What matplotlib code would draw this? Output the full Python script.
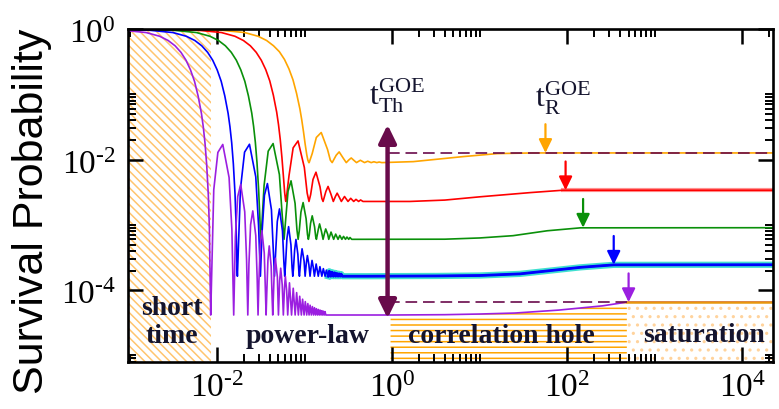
import numpy as np
import matplotlib
matplotlib.use("Agg")
import matplotlib.pyplot as plt
from matplotlib.ticker import FixedLocator, FuncFormatter, NullFormatter

plt.rcParams['mathtext.fontset'] = 'custom'
plt.rcParams['mathtext.rm'] = 'Liberation Serif'
plt.rcParams['mathtext.it'] = 'Liberation Serif'
plt.rcParams['hatch.linewidth'] = 1.1

# survival probability curves (log10 t, log10 P)
violet_lt = [-3.095, -2.813, -2.658, -2.561, -2.482, -2.415, -2.357, -2.306, -2.260, -2.219, -2.181, -2.160,
             -2.140, -2.121, -2.102, -2.090, -2.079, -2.075,
             -2.040, -1.993, -1.937, -1.865, -1.833, -1.812,
             -1.793, -1.766, -1.732, -1.686, -1.665, -1.651,
             -1.638, -1.619, -1.594, -1.560, -1.544, -1.534,
             -1.524, -1.509, -1.490, -1.463, -1.450, -1.442,
             -1.434, -1.421, -1.406, -1.384, -1.373, -1.366,
             -1.349, -1.336, -1.313, -1.301,
             -1.287, -1.275, -1.258, -1.245,
             -1.232, -1.222, -1.207, -1.195,
             -1.175, -1.151, -1.132, -1.110, -1.093, -1.073, -1.058, -1.039, -1.025, -1.008,
             -0.994, -0.978, -0.965, -0.951, -0.939, -0.925, -0.913, -0.900, -0.889, -0.877,
             -0.867, -0.855, -0.845, -0.834, -0.825, -0.814, -0.805, -0.795, -0.787, -0.777,
             -0.769, -0.759,
             0.0, 0.6, 1.0, 1.4, 1.9, 2.4, 2.68, 4.5]
violet_lp = [-0.017, -0.054, -0.111, -0.176, -0.257, -0.357, -0.478, -0.626, -0.801, -1.024, -1.292, -1.496,
             -1.747, -2.076, -2.545, -3.052, -4.06, -4.38,
             -2.463, -1.890, -1.768, -2.274, -3.070, -4.38,
             -3.182, -2.565, -2.380, -2.800, -3.530, -4.38,
             -3.598, -2.997, -2.786, -3.163, -3.818, -4.38,
             -3.862, -3.306, -3.087, -3.430, -4.003, -4.38,
             -4.031, -3.538, -3.322, -3.634, -4.122, -4.38,
             -3.718, -3.511, -3.800, -4.38,
             -3.856, -3.663, -3.914, -4.38,
             -3.964, -3.786, -4.009, -4.38,
             -3.887, -4.38, -3.970, -4.38, -4.037, -4.38, -4.093, -4.38, -4.138, -4.38,
             -4.175, -4.38, -4.205, -4.38, -4.230, -4.38, -4.251, -4.38, -4.268, -4.38,
             -4.283, -4.38, -4.295, -4.38, -4.305, -4.38, -4.314, -4.38, -4.322, -4.38,
             -4.328, -4.38,
             -4.38, -4.375, -4.365, -4.35, -4.305, -4.24, -4.183, -4.183]

blue_lt = [-3.1, -2.790, -2.508, -2.353, -2.256, -2.177, -2.110, -2.052, -2.001, -1.955, -1.914, -1.876,
           -1.855, -1.835, -1.816, -1.797, -1.785, -1.774, -1.770,
           -1.735, -1.688, -1.632, -1.560, -1.528, -1.507,
           -1.488, -1.461, -1.427, -1.381, -1.360, -1.346,
           -1.333, -1.314, -1.289, -1.255, -1.239, -1.229,
           -1.219, -1.204, -1.185, -1.158, -1.145, -1.137,
           -1.129, -1.116, -1.101, -1.079, -1.068, -1.061,
           -1.044, -1.031, -1.008, -0.996,
           -0.982, -0.970, -0.953, -0.940,
           -0.927, -0.917, -0.902, -0.890,
           -0.870, -0.846, -0.827, -0.805, -0.788, -0.768, -0.753, -0.734, -0.720, -0.703,
           -0.689, -0.673, -0.660, -0.646, -0.634, -0.620, -0.608, -0.595, -0.584, -0.572,
           -0.3, 0.5, 1.0, 1.46, 2.15, 2.53, 4.5]
blue_lp = [-0.003, -0.017, -0.054, -0.111, -0.176, -0.257, -0.357, -0.478, -0.626, -0.801, -1.024, -1.292,
           -1.496, -1.743, -2.068, -2.526, -2.996, -3.680, -3.786,
           -2.448, -1.886, -1.765, -2.264, -3.012, -3.786,
           -3.108, -2.546, -2.367, -2.768, -3.380, -3.786,
           -3.427, -2.947, -2.755, -3.092, -3.562, -3.786,
           -3.586, -3.210, -3.027, -3.307, -3.655, -3.786,
           -3.668, -3.386, -3.223, -3.451, -3.704, -3.786,
           -3.504, -3.366, -3.552, -3.786,
           -3.583, -3.469, -3.613, -3.786,
           -3.637, -3.544, -3.657, -3.786,
           -3.599, -3.786, -3.640, -3.786, -3.670, -3.786, -3.693, -3.786, -3.710, -3.786,
           -3.724, -3.786, -3.734, -3.786, -3.743, -3.786, -3.749, -3.786, -3.754, -3.786,
           -3.786, -3.782, -3.775, -3.75, -3.65, -3.612, -3.61]

green_lt = [-3.1, -2.520, -2.238, -2.083, -1.986, -1.907, -1.840, -1.782, -1.731, -1.685, -1.644, -1.606,
            -1.585, -1.565, -1.546, -1.527, -1.515, -1.504, -1.500,
            -1.465, -1.418, -1.362, -1.290, -1.258, -1.237,
            -1.218, -1.191, -1.157, -1.111, -1.090, -1.076,
            -1.063, -1.044, -1.019, -0.985, -0.969, -0.959,
            -0.949, -0.934, -0.915, -0.888, -0.875, -0.867,
            -0.846, -0.831, -0.809, -0.791,
            -0.774, -0.761, -0.738, -0.726,
            -0.700, -0.670, -0.647, -0.620, -0.600, -0.576, -0.557, -0.535, -0.518, -0.498, -0.483, -0.464,
            0.6, 1.0, 1.38, 1.77, 2.15, 4.5]
green_lp = [-0.001, -0.017, -0.054, -0.111, -0.176, -0.257, -0.357, -0.478, -0.626, -0.801, -1.024, -1.287,
            -1.488, -1.733, -2.046, -2.467, -2.840, -3.189, -3.221,
            -2.397, -1.871, -1.754, -2.230, -2.851, -3.221,
            -2.914, -2.484, -2.325, -2.669, -3.068, -3.221,
            -3.091, -2.805, -2.658, -2.904, -3.148, -3.221,
            -3.156, -2.977, -2.861, -3.031, -3.181, -3.221,
            -3.071, -2.985, -3.102, -3.221,
            -3.124, -3.062, -3.144, -3.221,
            -3.110, -3.221, -3.141, -3.221, -3.162, -3.221, -3.176, -3.221, -3.186, -3.221, -3.193, -3.221,
            -3.219, -3.20, -3.165, -3.09, -3.045, -3.043]

red_lt = [-3.1, -2.235, -1.953, -1.798, -1.701, -1.622, -1.555, -1.497, -1.446, -1.400, -1.359, -1.321,
          -1.300, -1.280, -1.261, -1.242, -1.230, -1.219, -1.215,
          -1.180, -1.133, -1.077, -1.005, -0.973, -0.952,
          -0.933, -0.906, -0.872, -0.826, -0.805, -0.791,
          -0.759, -0.734, -0.700, -0.674,
          -0.649, -0.630, -0.603, -0.582,
          -0.546, -0.506, -0.475, -0.441, -0.415, -0.385, -0.362, -0.335,
          0.2, 0.6, 1.0, 1.58, 1.95, 4.5]
red_lp = [-0.0005, -0.017, -0.054, -0.111, -0.176, -0.257, -0.357, -0.478, -0.622, -0.795, -1.014, -1.273,
          -1.466, -1.695, -1.971, -2.293, -2.503, -2.632, -2.641,
          -2.245, -1.820, -1.714, -2.121, -2.510, -2.641,
          -2.537, -2.304, -2.193, -2.417, -2.595, -2.641,
          -2.488, -2.411, -2.533, -2.641,
          -2.562, -2.514, -2.583, -2.641,
          -2.565, -2.641, -2.593, -2.641, -2.609, -2.641, -2.618, -2.641,
          -2.641, -2.62, -2.57, -2.505, -2.469, -2.469]

orange_lt = [-3.1, -1.970, -1.688, -1.533, -1.436, -1.357, -1.290, -1.232, -1.181, -1.135, -1.094, -1.056,
             -1.035, -1.015, -0.996, -0.977, -0.965, -0.954, -0.950,
             -0.915, -0.868, -0.812, -0.740, -0.708, -0.687,
             -0.641, -0.607, -0.561, -0.526,
             -0.494, -0.469, -0.435, -0.409,
             -0.365, -0.317, -0.281, -0.241, -0.210, -0.177, -0.150, -0.120,
             0.24, 0.81, 1.2, 1.6, 4.5]
orange_lp = [0.0, -0.017, -0.054, -0.111, -0.176, -0.257, -0.348, -0.466, -0.610, -0.777, -0.985, -1.222,
             -1.388, -1.570, -1.760, -1.928, -2.007, -2.046, -2.046,
             -1.907, -1.661, -1.585, -1.845, -2.009, -2.046,
             -1.933, -1.882, -1.977, -2.046,
             -2.002, -1.975, -2.016, -2.046,
             -2.010, -2.046, -2.025, -2.046, -2.033, -2.046, -2.037, -2.046,
             -2.031, -1.954, -1.908, -1.898, -1.898]

curve_colors = ['#ffa500', '#ff0000', '#0a900a', '#0000ff', '#9b1fe0']
# relaxation times (log10 t) and saturation values (log10 P) marked by the small arrows
relax_lt = [1.75, 1.98, 2.18, 2.53, 2.70]
sat_lp = [-1.898, -2.469, -3.043, -3.61, -4.183]

# Thouless time arrow and region borders (log10 t)
thouless_lt = -0.054
thouless_top_lp = -1.466
thouless_bottom_lp = -4.43
short_end_lt = -2.076
hole_start_lt = -0.02
sat_start_lt = 2.68

# labelled ticks every two decades; minor ticks at 2..10 times each decade start
x_major = [1e-2, 1e0, 1e2, 1e4]
y_major = [1e-4, 1e-2, 1e0]
x_minor_base = [1e-4, 1e-2, 1e0, 1e2, 1e4]
y_minor_base = [1e-6, 1e-4, 1e-2]

dark = '#690b4b'
ink = '#14142e'

fig = plt.figure(figsize=(7.79, 4.10), dpi=100)
ax = fig.add_axes([0.1643, 0.1146, 0.8280, 0.8122])
ax.set_xscale('log')
ax.set_yscale('log')
xlim = (10 ** -3.02, 10 ** 4.35)
ylim = (10 ** -5.1, 1.0)
ax.set_xlim(*xlim)
ax.set_ylim(*ylim)

# shaded regions
ax.axvspan(xlim[0], 10 ** short_end_lt, facecolor='none', edgecolor='#ffc56e',
           hatch='\\\\\\\\', lw=0, zorder=0.5)
vt = np.array(violet_lt)
vp = np.array(violet_lp)
m = (vt >= hole_start_lt) & (vt <= sat_start_lt)
ax.fill_between(10 ** np.r_[hole_start_lt, vt[m]], ylim[0], 10 ** np.r_[vp[m][0], vp[m]],
                facecolor='none', edgecolor='#ffa500', hatch='---', lw=0, zorder=0.5)
ax.fill_between([10 ** sat_start_lt, xlim[1]], ylim[0], 10 ** sat_lp[-1],
                facecolor='none', edgecolor='#ffd39c', hatch='..', lw=0, zorder=0.5)

# curves
bt = np.array(blue_lt)
bp = np.array(blue_lp)
mc = bt >= -0.75
ax.plot(10 ** bt[mc], 10 ** bp[mc], color='#40e0d0', lw=4.5, zorder=1.8)
rt = np.array(red_lt)
rp = np.array(red_lp)
mr = rt >= 1.9
ax.plot(10 ** rt[mr], 10 ** rp[mr], color='#ff9090', lw=3, zorder=1.8)

series = [(orange_lt, orange_lp), (red_lt, red_lp), (green_lt, green_lp),
          (blue_lt, blue_lp), (violet_lt, violet_lp)]
for (lt, lp), c in zip(series, curve_colors):
    ax.plot(10 ** np.array(lt), 10 ** np.array(lp), color=c, lw=1.2, zorder=2)
ax.plot(10 ** bt[mc], 10 ** bp[mc], color='#0000ff', lw=2.0, zorder=2.1)
ax.plot([10 ** sat_start_lt, xlim[1]], [10 ** sat_lp[-1]] * 2, color='#e8960c', lw=1.8, zorder=2.2)

# dashed guide lines
ax.plot([10 ** thouless_lt, xlim[1]], [10 ** sat_lp[0]] * 2, color=dark, lw=1.2,
        dashes=(7, 3.5), zorder=3)
ax.plot([10 ** thouless_lt, 10 ** sat_start_lt], [10 ** sat_lp[-1]] * 2, color=dark, lw=1.2,
        dashes=(7, 3.5), zorder=3)

# Thouless time double arrow
ax.annotate('', xy=(10 ** thouless_lt, 10 ** thouless_bottom_lp),
            xytext=(10 ** thouless_lt, 10 ** thouless_top_lp),
            arrowprops=dict(arrowstyle='<|-|>,head_length=0.45,head_width=0.22', color=dark,
                            lw=3.2, mutation_scale=24, shrinkA=0, shrinkB=0), zorder=4)

# relaxation time arrows
for lt, lp, c in zip(relax_lt, sat_lp, curve_colors):
    ax.annotate('', xy=(10 ** lt, 10 ** lp), xytext=(10 ** lt, 10 ** (lp + 0.44)),
                arrowprops=dict(arrowstyle='-|>,head_length=0.45,head_width=0.22', color=c,
                                lw=1.6, mutation_scale=18, shrinkA=0, shrinkB=0), zorder=4)

# labels
serif = 'Liberation Serif'
tb = dict(transform=ax.transAxes, family=serif, fontweight='bold', fontsize=20,
          ha='center', va='baseline', color=ink, zorder=5)
ax.text(0.0682, 0.1441, 'short', **tb)
ax.text(0.0682, 0.0616, 'time', **tb)
ax.text(0.2783, 0.0601, 'power-law', **tb)
ax.text(0.5783, 0.0601, 'correlation hole', **tb)
ax.text(0.8930, 0.0631, 'saturation', **tb)

tl = dict(transform=ax.transAxes, ha='left', va='baseline', color=ink, zorder=5, fontsize=23)
ax.text(0.3736, 0.7748, r'$\mathrm{t}^{\mathrm{GOE}}_{\mathrm{Th}}$', **tl)
ax.text(0.6310, 0.7688, r'$\mathrm{t}^{\mathrm{GOE}}_{\mathrm{R}}$', **tl)

fig.text(32 / 779, 1 - 211 / 410, 'Survival Probability', rotation=90, ha='center', va='center',
         family='Liberation Sans', fontsize=31, color='black')


def decade_label(v, pos):
    e = round(np.log10(v))
    sign = '\u2010' if e < 0 else ''
    return r'$\mathrm{10^{%s%d}}$' % (sign, abs(e))


fmt = FuncFormatter(decade_label)
ax.xaxis.set_major_locator(FixedLocator(x_major))
ax.xaxis.set_minor_locator(FixedLocator([v * k for v in x_minor_base for k in range(2, 11)]))
ax.yaxis.set_major_locator(FixedLocator(y_major))
ax.yaxis.set_minor_locator(FixedLocator([v * k for v in y_minor_base for k in range(2, 11)]))
ax.xaxis.set_major_formatter(fmt)
ax.yaxis.set_major_formatter(fmt)
ax.xaxis.set_minor_formatter(NullFormatter())
ax.yaxis.set_minor_formatter(NullFormatter())
ax.tick_params(which='both', direction='in', top=True, right=True, colors='black')
ax.tick_params(which='major', length=10.5, width=1.8, labelsize=24)
ax.tick_params(which='minor', length=5.5, width=1.4)
ax.tick_params(axis='x', which='major', pad=6)
ax.tick_params(axis='y', which='major', pad=9)
for s in ax.spines.values():
    s.set_linewidth(1.9)
    s.set_zorder(6)

fig.savefig('out.png', dpi=100)
